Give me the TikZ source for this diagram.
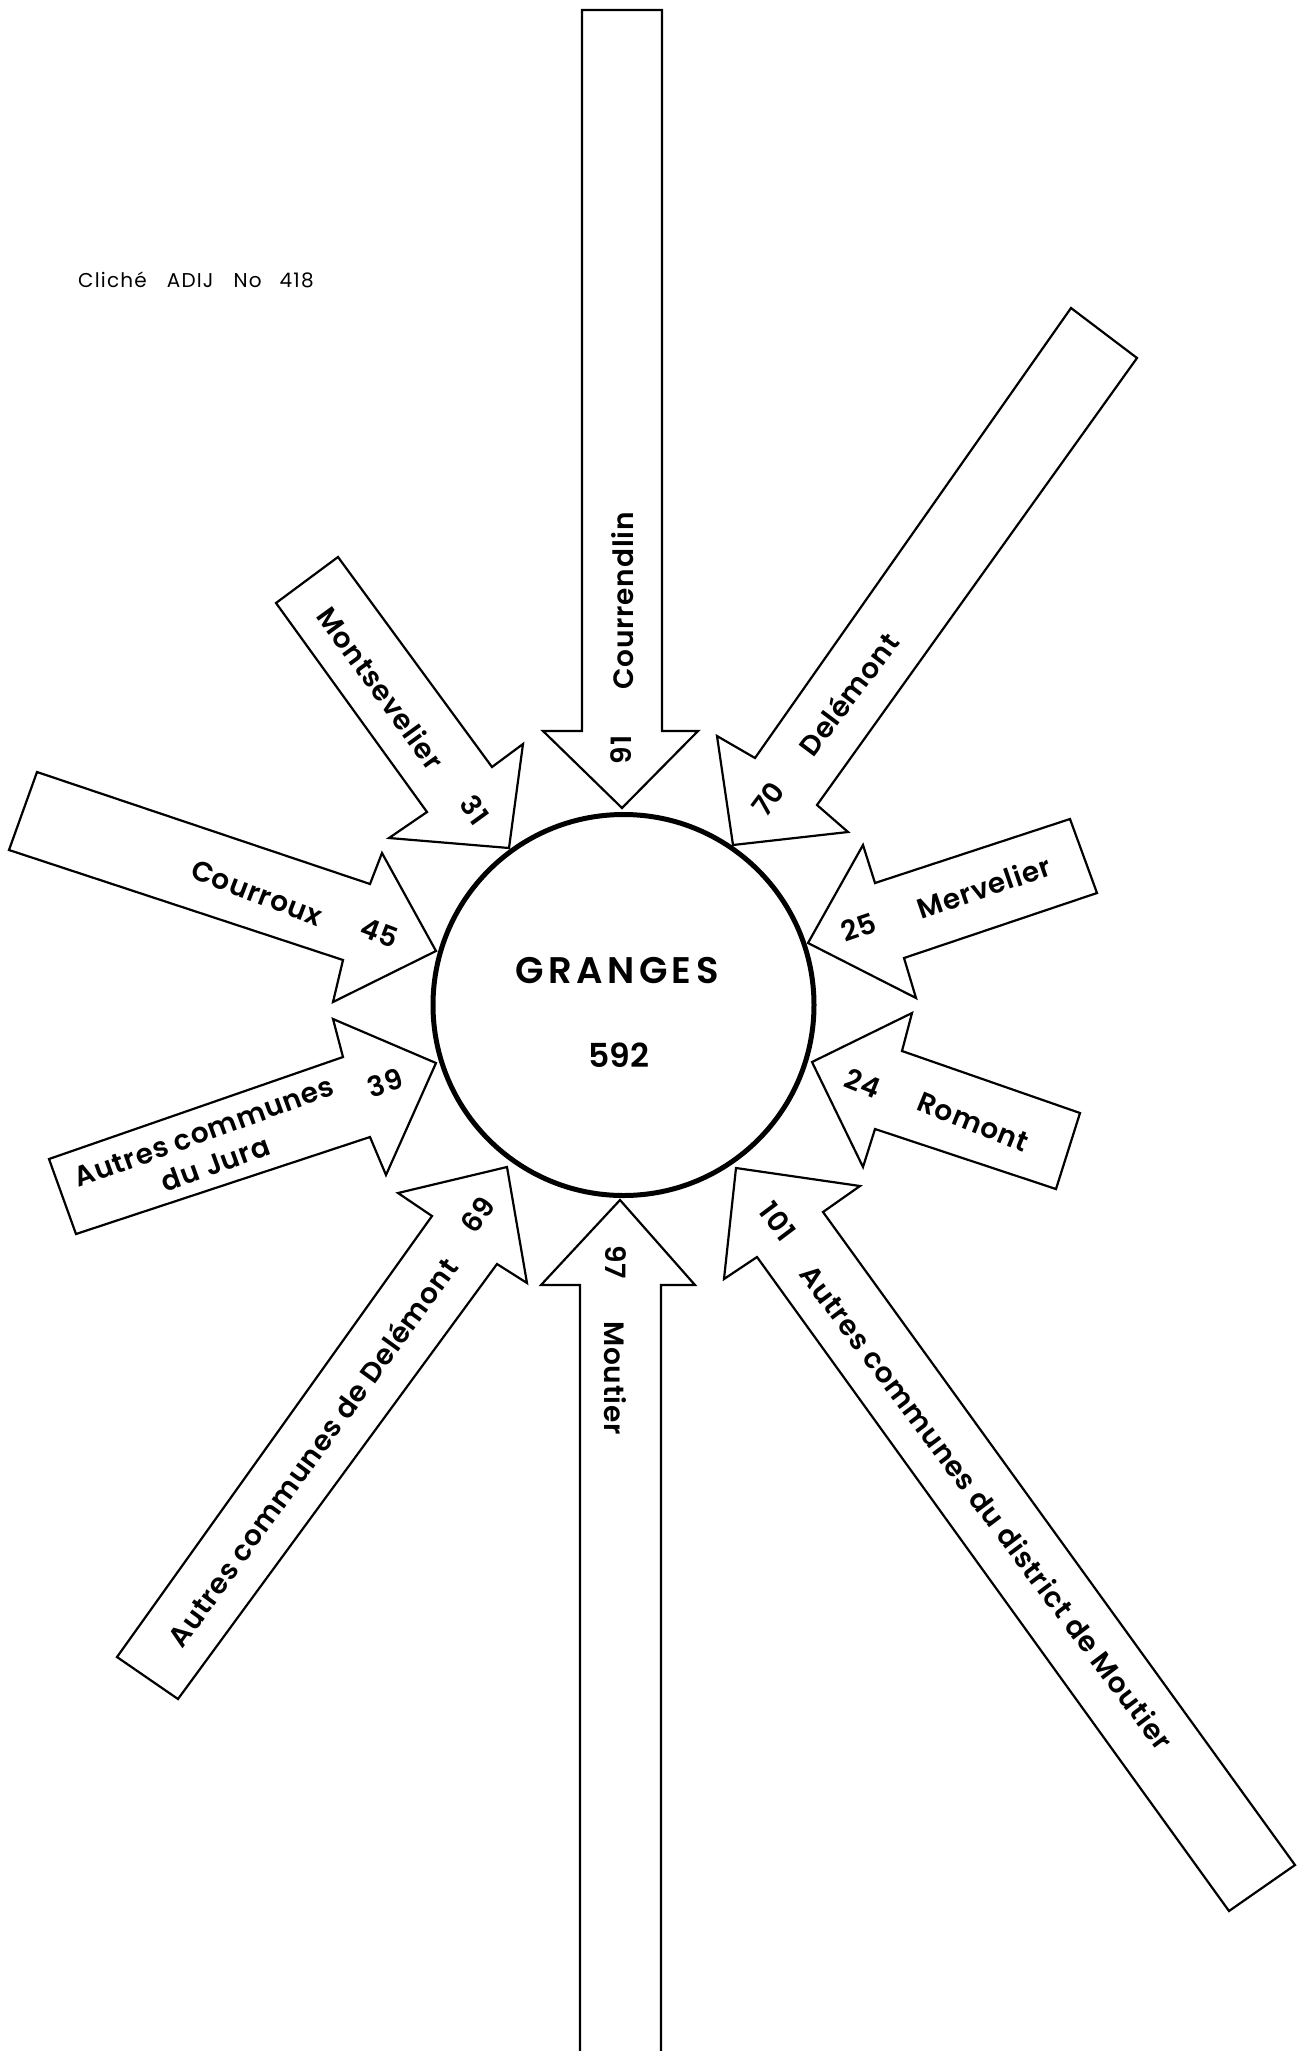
\documentclass[tikz,border=0pt]{standalone}
\usepackage{fontspec}
\setmainfont{Poppins}[BoldFont={Poppins SemiBold}]
\begin{document}
\begin{tikzpicture}[x=1pt,y=-1pt,
  arr/.style={draw=black, line width=2.2pt, fill=white, line join=miter},
  lab/.style={font=\bfseries\fontsize{28}{32}\selectfont\addfontfeatures{LetterSpace=3}, inner sep=0pt},
  big/.style={font=\bfseries\fontsize{37}{40}\selectfont, inner sep=0pt}]
\useasboundingbox (0,0) rectangle (1296,2051);
\fill[white] (0,0) rectangle (1296,2051);
% arrows
\draw[arr] (582,10) -- (582,731) -- (543,731) -- (622,808) -- (698,731) -- (662,731) -- (662,10) -- cycle;
\draw[arr] (580,2060) -- (580,1285) -- (541,1285) -- (620,1200) -- (695,1285) -- (661,1285) -- (661,2060);
\draw[arr] (338,557) -- (492,767) -- (523,744) -- (509,848) -- (389,838) -- (427,812) -- (276,603) -- cycle;
\draw[arr] (37,772) -- (370,884) -- (382,853) -- (436,951) -- (333,1002) -- (343,960) -- (9,850) -- cycle;
\draw[arr] (49,1159) -- (343,1057) -- (333,1019) -- (436,1063) -- (386,1175) -- (370,1137) -- (76,1234) -- cycle;
\draw[arr] (1071,308) -- (755,758) -- (717,736) -- (733,845) -- (848,832) -- (817,805) -- (1137,358) -- cycle;
\draw[arr] (1070,819) -- (875,883) -- (863,845) -- (808,943) -- (916,998) -- (904,958) -- (1097,893) -- cycle;
\draw[arr] (1080,1113) -- (902,1051) -- (912,1013) -- (812,1062) -- (863,1167) -- (875,1129) -- (1056,1189) -- cycle;
\draw[arr] (117,1657) -- (432,1216) -- (398,1193) -- (507,1167) -- (527,1283) -- (497,1264) -- (178,1699) -- cycle;
\draw[arr] (1295,1865) -- (823,1212) -- (860,1186) -- (736,1168) -- (724,1279) -- (757,1257) -- (1229,1911) -- cycle;
% centre
\node[draw, circle, line width=5pt, fill=white, minimum size=381pt, inner sep=0pt] (granges) at (623.5,1005) {};
\node[big] (gname) at (617,971) {\addfontfeatures{LetterSpace=12}GRANGES};
\node[big, font=\bfseries\fontsize{33}{36}\selectfont] (gtotal) at (618.7,1055) {592};
% labels
\node[lab, rotate=90] (courrendlin) at (623,601) {Courrendlin};
\node[lab, rotate=90] (n91) at (621,750) {91};
\node[lab, rotate=-54] (montsevelier) at (381,688) {Montsevelier};
\node[lab, rotate=-54] (n31) at (475,810) {31};
\node[lab, rotate=-21] (courroux) at (257,893) {Courroux};
\node[lab, rotate=-21] (n45) at (380,933) {45};
\node[lab, rotate=20, align=center] (jura) at (210,1148) {Autres communes\\[2pt]du Jura};
\node[lab, rotate=18] (n39) at (385,1083) {39};
\node[lab, rotate=53] (delemont) at (848,694) {Delémont};
\node[lab, rotate=53] (n70) at (768,799) {70};
\node[lab, rotate=19] (mervelier) at (984,887) {Mervelier};
\node[lab, rotate=19] (n25) at (859,927) {25};
\node[lab, rotate=-22] (romont) at (973,1122) {Romont};
\node[lab, rotate=-22] (n24) at (863,1083) {24};
\node[lab, rotate=54] (autdel) at (312,1452) {Autres communes de Delémont};
\node[lab, rotate=54] (n69) at (478,1215) {69};
\node[lab, rotate=-90] (moutier) at (615,1378) {Moutier};
\node[lab, rotate=-90] (n97) at (616,1262) {97};
\node[lab, rotate=-53] (autmou) at (987,1507) {Autres communes du district de Moutier};
\node[lab, rotate=-53] (n101) at (778,1221) {101};
% caption
\node[anchor=base west, inner sep=0pt, font=\fontsize{20}{24}\selectfont\addfontfeatures{LetterSpace=6}] (cliche) at (78,287) {Cliché\hspace{20pt}ADIJ\hspace{20pt}No\hspace{18pt}418};
\end{tikzpicture}
\end{document}
